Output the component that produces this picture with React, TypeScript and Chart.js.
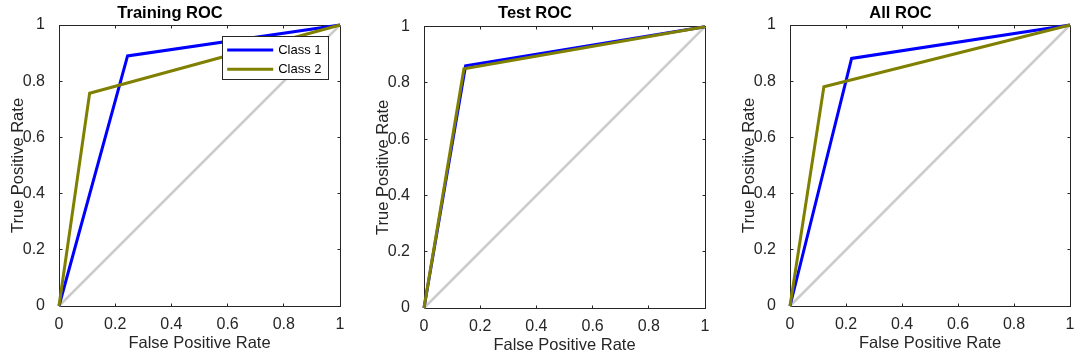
import React, { useEffect, useRef } from 'react';
import { Chart, registerables } from 'chart.js';

Chart.register(...registerables);

// ---- data ----
const panelTitles = ['Training ROC', 'Test ROC', 'All ROC'];
const seriesLabels = ['Class 1', 'Class 2'];
const seriesColors = ['#0000ff', '#808000'];
const chanceColor = '#cccccc';
const tickValues = [0, 0.2, 0.4, 0.6, 0.8, 1];
const tickLabels = ['0', '0.2', '0.4', '0.6', '0.8', '1'];

const trainClass1Fpr = [0, 0.244, 1];
const trainClass1Tpr = [0, 0.89, 1];
const trainClass2Fpr = [0, 0.109, 1];
const trainClass2Tpr = [0, 0.757, 1];

const testClass1Fpr = [0, 0.148, 1];
const testClass1Tpr = [0, 0.861, 1];
const testClass2Fpr = [0, 0.142, 1];
const testClass2Tpr = [0, 0.85, 1];

const allClass1Fpr = [0, 0.22, 1];
const allClass1Tpr = [0, 0.881, 1];
const allClass2Fpr = [0, 0.121, 1];
const allClass2Tpr = [0, 0.78, 1];

const chanceFpr = [0, 1];
const chanceTpr = [0, 1];

const panelSeries = [
  [[trainClass1Fpr, trainClass1Tpr], [trainClass2Fpr, trainClass2Tpr]],
  [[testClass1Fpr, testClass1Tpr], [testClass2Fpr, testClass2Tpr]],
  [[allClass1Fpr, allClass1Tpr], [allClass2Fpr, allClass2Tpr]],
];

// ---- layout (positions / styles) ----
const panelLayouts = [
  { left: 0, width: 360, padLeft: 0, padRight: 20, titleBottom: 1.8, xAxisH: 57, xTitleBottom: 10, legend: true },
  { left: 360, width: 360, padLeft: 5, padRight: 15, titleBottom: 3.5, xAxisH: 55, xTitleBottom: 7.6, legend: false },
  { left: 720, width: 361, padLeft: 11, padRight: 11, titleBottom: 1.8, xAxisH: 57, xTitleBottom: 10, legend: false },
];

const FONT = "'Liberation Sans', Arial, Helvetica, sans-serif";
const AXIS_COLOR = '#262626';
const H = 363;

const toPoints = (xs: number[], ys: number[]) => xs.map((x, i) => ({ x, y: ys[i] }));

const boxPlugin = {
  id: 'matlabBox',
  beforeDatasetsDraw(chart: any) {
    const { ctx, chartArea: a, scales } = chart;
    const x = scales.x;
    const y = scales.y;
    const L = Math.floor(a.left) + 0.5;
    const R = Math.floor(a.right) + 0.5;
    const T = Math.floor(a.top) + 0.5;
    const B = Math.floor(a.bottom) + 0.5;
    ctx.save();
    ctx.strokeStyle = AXIS_COLOR;
    ctx.lineWidth = 1;
    ctx.strokeRect(L, T, R - L, B - T);
    const tl = 3;
    ctx.beginPath();
    tickValues.forEach((v) => {
      const px = Math.floor(x.getPixelForValue(v)) + 0.5;
      ctx.moveTo(px, B);
      ctx.lineTo(px, B - tl);
      ctx.moveTo(px, T);
      ctx.lineTo(px, T + tl);
      const py = Math.floor(y.getPixelForValue(v)) + 0.5;
      ctx.moveTo(L, py);
      ctx.lineTo(L + tl, py);
      ctx.moveTo(R, py);
      ctx.lineTo(R - tl, py);
    });
    ctx.stroke();
    ctx.restore();
  },
};

const legendPlugin = {
  id: 'matlabLegend',
  afterDatasetsDraw(chart: any, _args: any, opts: any) {
    if (!opts || !opts.show) return;
    const { ctx, chartArea: a } = chart;
    const w = 105.5;
    const h = 42.5;
    const right = a.right - 12.3;
    const top = a.top + 11.7;
    const left = right - w;
    ctx.save();
    ctx.fillStyle = '#ffffff';
    ctx.fillRect(left, top, w, h);
    ctx.strokeStyle = AXIS_COLOR;
    ctx.lineWidth = 1;
    ctx.strokeRect(Math.floor(left) + 0.5, Math.floor(top) + 0.5, Math.round(w), Math.round(h));
    const rows = [13.3, 32.6];
    seriesLabels.forEach((label, i) => {
      const yy = top + rows[i];
      ctx.strokeStyle = seriesColors[i];
      ctx.lineWidth = 3;
      ctx.beginPath();
      ctx.moveTo(left + 5, yy);
      ctx.lineTo(left + 51, yy);
      ctx.stroke();
      ctx.fillStyle = '#000000';
      ctx.font = `13px ${FONT}`;
      ctx.textAlign = 'left';
      ctx.textBaseline = 'middle';
      ctx.fillText(label, left + 56, yy + 0.5);
    });
    ctx.restore();
  },
};

function RocPanel({ index }: { index: number }) {
  const ref = useRef<HTMLCanvasElement | null>(null);
  const lay = panelLayouts[index];

  useEffect(() => {
    if (!ref.current) return;
    const series = panelSeries[index];
    const datasets: any[] = [
      {
        label: 'chance',
        data: toPoints(chanceFpr, chanceTpr),
        borderColor: chanceColor,
        borderWidth: 2.5,
        showLine: true,
        pointRadius: 0,
        clip: false,
        order: 2,
      },
      ...series.map(([xs, ys], i) => ({
        label: seriesLabels[i],
        data: toPoints(xs, ys),
        borderColor: seriesColors[i],
        borderWidth: 3,
        showLine: true,
        pointRadius: 0,
        clip: false,
        order: 1 - i,
        borderJoinStyle: 'miter',
      })),
    ];

    const chart = new Chart(ref.current, {
      type: 'scatter',
      data: { datasets },
      plugins: [boxPlugin, legendPlugin],
      options: {
        animation: false,
        responsive: false,
        devicePixelRatio: 1,
        layout: { padding: { left: lay.padLeft, right: lay.padRight, top: 0, bottom: 0 } },
        plugins: {
          legend: { display: false },
          tooltip: { enabled: false },
          title: {
            display: true,
            text: panelTitles[index],
            color: '#000000',
            font: { family: FONT, size: 16.5, weight: 'bold', lineHeight: 1.2 },
            padding: { top: 3.4, bottom: lay.titleBottom },
          },
          matlabLegend: { show: lay.legend },
        } as any,
        scales: {
          x: {
            type: 'linear',
            min: 0,
            max: 1,
            afterBuildTicks: (s: any) => {
              s.ticks = tickValues.map((v) => ({ value: v }));
            },
            afterFit: (s: any) => {
              s.height = lay.xAxisH;
            },
            ticks: {
              autoSkip: false,
              maxRotation: 0,
              padding: 1,
              color: AXIS_COLOR,
              font: { family: FONT, size: 16 },
              callback: (v: any) => tickLabels[tickValues.indexOf(Number(v))] ?? String(v),
            },
            grid: { display: false },
            border: { display: false },
            title: {
              display: true,
              text: 'False Positive Rate',
              color: AXIS_COLOR,
              font: { family: FONT, size: 16.5, lineHeight: 1.2 },
              padding: { top: 0, bottom: lay.xTitleBottom },
            },
          },
          y: {
            type: 'linear',
            min: 0,
            max: 1,
            afterBuildTicks: (s: any) => {
              s.ticks = tickValues.map((v) => ({ value: v }));
            },
            afterFit: (s: any) => {
              s.width = 59;
            },
            ticks: {
              autoSkip: false,
              padding: 6,
              color: AXIS_COLOR,
              font: { family: FONT, size: 16 },
              callback: (v: any) => tickLabels[tickValues.indexOf(Number(v))] ?? String(v),
            },
            grid: { display: false },
            border: { display: false },
            title: {
              display: true,
              text: 'True Positive Rate',
              color: AXIS_COLOR,
              font: { family: FONT, size: 16.5, lineHeight: 1.2 },
              padding: { top: 9, bottom: 0 },
            },
          },
        },
      } as any,
    });
    return () => chart.destroy();
  }, [index]);

  return (
    <div style={{ position: 'absolute', left: lay.left, top: 0, width: lay.width, height: H }}>
      <canvas ref={ref} width={lay.width} height={H} style={{ display: 'block', width: lay.width, height: H }} />
    </div>
  );
}

export default function App() {
  return (
    <div
      style={{
        position: 'absolute',
        left: 0,
        top: 0,
        width: 1081,
        height: H,
        background: '#ffffff',
        overflow: 'hidden',
      }}
    >
      {panelTitles.map((_, i) => (
        <RocPanel key={i} index={i} />
      ))}
    </div>
  );
}
